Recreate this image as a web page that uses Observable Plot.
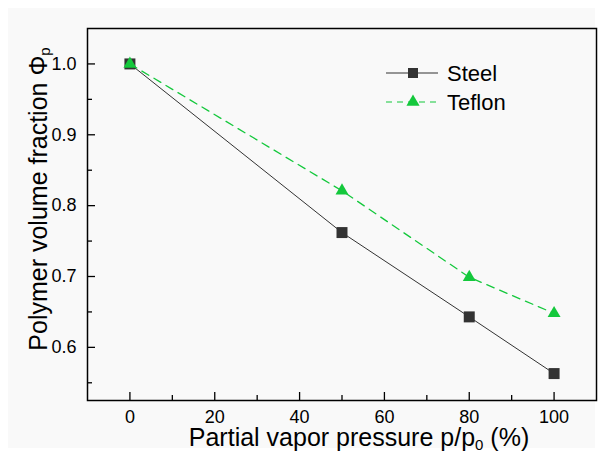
<!DOCTYPE html>
<html><head><meta charset="utf-8">
<script src="https://cdn.jsdelivr.net/npm/d3@7"></script>
<script src="https://cdn.jsdelivr.net/npm/@observablehq/plot@0.6"></script>
<style>
body{margin:0;background:#fff;font-family:"Liberation Sans",Arial,sans-serif;}
#wrap{position:relative;width:603px;height:452px;overflow:hidden;}
#bg{position:absolute;left:8px;top:8px;width:587px;height:440px;background:#f9f9f9;}
#chart{position:absolute;left:0;top:0;}
#legend{position:absolute;left:380px;top:58px;}
</style></head><body>
<div id="wrap"><div id="bg"></div><div id="chart"></div><div id="legend"></div></div>
<script>
const pressure = [0, 50, 80, 100];
const steel = [1.0, 0.762, 0.643, 0.563];
const teflon = [1.0, 0.821, 0.699, 0.648];
const seriesNames = ["Steel", "Teflon"];
const xTicks = [0, 20, 40, 60, 80, 100];
const xMinor = [10, 30, 50, 70, 90];
const yTicks = [0.6, 0.7, 0.8, 0.9, 1.0];
const yMinor = [0.55, 0.65, 0.75, 0.85, 0.95];

const steelColor = "#333333", teflonColor = "#14c83c";
const steelData = pressure.map((p, i) => ({x: p, y: steel[i]}));
const teflonData = pressure.map((p, i) => ({x: p, y: teflon[i]}));

const W = 603, H = 452, mL = 87, mR = 7, mT = 28, mB = 52;
const pw = W - mL - mR, ph = H - mT - mB;

const chart = Plot.plot({
  width: W, height: H,
  marginLeft: mL, marginRight: mR, marginTop: mT, marginBottom: mB,
  style: {background: "transparent", fontFamily: "Liberation Sans, Arial, sans-serif", fontSize: "18px", color: "#000"},
  x: {domain: [-10, 110]},
  y: {domain: [0.525, 1.05]},
  marks: [
    Plot.axisX(xTicks, {tickSize: 0, tickPadding: 10, label: null}),
    Plot.axisY(yTicks, {tickSize: 0, tickPadding: 11, tickFormat: ".1f", label: null}),
    Plot.tickX(xTicks, {x: d => d, insetTop: ph - 8, stroke: "#000", strokeWidth: 1.3}),
    Plot.tickX(xMinor, {x: d => d, insetTop: ph - 5, stroke: "#000", strokeWidth: 1.3}),
    Plot.tickY(yTicks, {y: d => d, insetRight: pw - 8, stroke: "#000", strokeWidth: 1.3}),
    Plot.tickY(yMinor, {y: d => d, insetRight: pw - 5, stroke: "#000", strokeWidth: 1.3}),
    Plot.frame({stroke: "#000", strokeWidth: 1.5}),
    Plot.line(steelData, {x: "x", y: "y", stroke: steelColor, strokeWidth: 1}),
    Plot.line(teflonData, {x: "x", y: "y", stroke: teflonColor, strokeWidth: 1.3, strokeDasharray: "8,6"}),
    Plot.dot(steelData, {x: "x", y: "y", symbol: "square", fill: steelColor, r: 6.2}),
    Plot.dot(teflonData, {x: "x", y: "y", symbol: "triangle", fill: teflonColor, r: 4.8})
  ]
});
document.getElementById("chart").appendChild(chart);

const svg = d3.select(chart);
const xt = svg.append("text").attr("x", 359).attr("y", 446).attr("text-anchor", "middle")
  .attr("font-size", 25).attr("fill", "#000");
xt.append("tspan").text("Partial vapor pressure p/p");
xt.append("tspan").attr("font-size", 15).attr("dy", 4).text("0");
xt.append("tspan").attr("dy", -4).text(" (%)");

const yt = svg.append("text").attr("transform", "translate(47,199) rotate(-90)").attr("text-anchor", "middle")
  .attr("font-size", 25).attr("fill", "#000");
yt.append("tspan").text("Polymer volume fraction Φ");
yt.append("tspan").attr("font-size", 15).attr("dy", 3).text("p");

// legend
const lg = d3.select("#legend").append("svg").attr("width", 160).attr("height", 60);
const items = [
  {name: seriesNames[0], color: steelColor, dash: null, sym: d3.symbolSquare, size: 100, y: 15},
  {name: seriesNames[1], color: teflonColor, dash: "6,5", sym: d3.symbolTriangle, size: 75, y: 44}
];
items.forEach(it => {
  lg.append("line").attr("x1", 6).attr("x2", 58).attr("y1", it.y).attr("y2", it.y)
    .attr("stroke", it.color).attr("stroke-width", 1.2).attr("stroke-dasharray", it.dash);
  lg.append("path").attr("d", d3.symbol(it.sym, it.size)()).attr("transform", `translate(33,${it.y})`).attr("fill", it.color);
  lg.append("text").attr("x", 67).attr("y", it.y).attr("dy", "0.35em").attr("font-size", 22)
    .attr("font-family", "Liberation Sans, Arial, sans-serif").text(it.name);
});
</script>
</body></html>
